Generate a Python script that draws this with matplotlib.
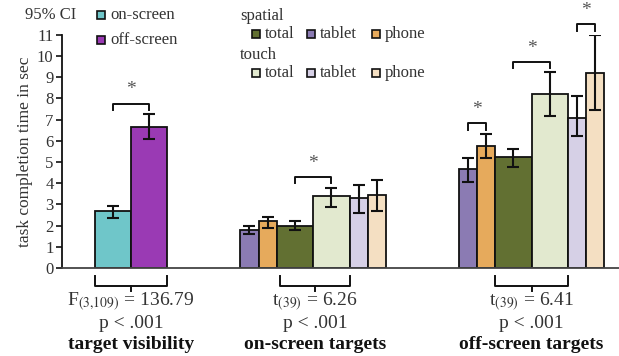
import matplotlib
matplotlib.use("Agg")
import matplotlib.pyplot as plt
from matplotlib.patches import Rectangle

plt.rcParams["font.family"] = ["Liberation Serif", "DejaVu Serif"]
plt.rcParams["mathtext.fontset"] = "stix"

GREY = "#333333"

# target visibility
vis_labels = ["on-screen", "off-screen"]
vis_colors = ["#6fc6c9", "#9a3ab4"]
vis_means = [2.68, 6.65]
vis_lo = [2.35, 6.1]
vis_hi = [2.95, 7.25]

# conditions: spatial tablet, spatial phone, spatial total, touch total, touch tablet, touch phone
cond_names = ["spatial tablet", "spatial phone", "spatial total",
              "touch total", "touch tablet", "touch phone"]
cond_colors = ["#8b7bb3", "#e6aa5c", "#627032", "#e2e9cf", "#d6d0e6", "#f4dfc2"]
cond_widths = [1, 1, 2, 2, 1, 1]

on_means = [1.8, 2.2, 2.0, 3.4, 3.3, 3.45]
on_lo = [1.6, 1.9, 1.8, 2.9, 2.6, 2.7]
on_hi = [2.0, 2.4, 2.2, 3.8, 3.9, 4.15]

off_means = [4.67, 5.75, 5.22, 8.2, 7.1, 9.2]
off_lo = [4.05, 5.17, 4.75, 7.17, 6.25, 7.46]
off_hi = [5.17, 6.33, 5.62, 9.23, 8.1, 11.0]

stats = [("F$_{(3{,}109)}$ = 136.79", "target visibility"),
         ("t$_{(39)}$ = 6.26", "on-screen targets"),
         ("t$_{(39)}$ = 6.41", "off-screen targets")]

fig = plt.figure(figsize=(6.19, 3.56), dpi=100)
ax = fig.add_axes([0.100, 0.247, 0.90, 0.655])


def draw_bars(start, widths, means, lo, hi, colors):
    centers = []
    x = start
    for w, m, l, h, c in zip(widths, means, lo, hi, colors):
        cx = x + w / 2
        ax.bar(cx, m, width=w, color=c, edgecolor="#111111", linewidth=1.3, zorder=2)
        ax.errorbar(cx, m, yerr=[[m - l], [h - m]], fmt="none", ecolor="#111111",
                    elinewidth=1.5, capsize=4, capthick=1.5, zorder=3)
        centers.append(cx)
        x += w
    return centers


def sig(x1, x2, top):
    y = top + 0.5
    ax.plot([x1, x1, x2, x2], [y - 0.3, y, y, y - 0.3], color="#111111", lw=1.4, clip_on=False)
    ax.text((x1 + x2) / 2, y + 0.25, "*", ha="center", va="bottom", fontsize=14,
            color="#555555", clip_on=False)


def under(x1, x2, stat, title):
    ax.plot([x1, x1, x2, x2], [-0.38, -0.85, -0.85, -0.38], color="#111111", lw=1.4, clip_on=False)
    xm = (x1 + x2) / 2
    ax.plot([xm, xm], [-0.85, -1.1], color="#111111", lw=1.4, clip_on=False)
    ax.text(xm, -1.6, stat, ha="center", va="center", fontsize=14, color=GREY)
    ax.text(xm, -2.6, "p < .001", ha="center", va="center", fontsize=14, color=GREY)
    ax.text(xm, -3.6, title, ha="center", va="center", fontsize=14, fontweight="bold",
            color="#111111")


c1 = draw_bars(1.8, [2, 2], vis_means, vis_lo, vis_hi, vis_colors)
c2 = draw_bars(9.8, cond_widths, on_means, on_lo, on_hi, cond_colors)
c3 = draw_bars(21.8, cond_widths, off_means, off_lo, off_hi, cond_colors)

sig(c1[0], c1[1], max(vis_hi))
sig(c2[2], c2[3], max(on_hi[2], on_hi[3]))
sig(c3[0], c3[1], max(off_hi[0], off_hi[1]))
sig(c3[2], c3[3], max(off_hi[2], off_hi[3]))
sig(c3[4], c3[5], max(off_hi[4], off_hi[5]))

under(1.8, 5.8, *stats[0])
under(9.8 + 2.2, 9.8 + 6, *stats[1])
under(21.8 + 2, 21.8 + 6, *stats[2])

ax.set_xlim(0, 30.6)
ax.set_ylim(0, 11)
ax.set_yticks(range(0, 12))
ax.set_xticks([])
ax.tick_params(axis="y", direction="out", length=4, width=1.2, colors="#111111",
               labelcolor=GREY, labelsize=12, pad=2)
for s in ["top", "right"]:
    ax.spines[s].set_visible(False)
ax.spines["left"].set_linewidth(1.3)
ax.spines["left"].set_color("#111111")
ax.spines["bottom"].set_linewidth(1.3)
ax.spines["bottom"].set_color("#444444")
ax.set_ylabel("task completion time in sec", fontsize=12.5, color=GREY, labelpad=3)

W, H = 619, 356


def swatch(px, py, color, label):
    fig.patches.append(Rectangle(((px) / W, (H - py - 4) / H), 8 / W, 8 / H,
                                 transform=fig.transFigure, facecolor=color,
                                 edgecolor="#111111", linewidth=1.2))
    fig.text((px + 13) / W, (H - py) / H, label, ha="left", va="center",
             fontsize=12, color=GREY)


fig.text(25 / W, (H - 15) / H, "95% CI", ha="left", va="center", fontsize=12, color=GREY)
swatch(97, 15, vis_colors[0], vis_labels[0])
swatch(97, 40, vis_colors[1], vis_labels[1])

fig.text(240 / W, (H - 16) / H, "spatial", ha="left", va="center", fontsize=12, color=GREY)
swatch(252, 34, cond_colors[2], "total")
swatch(307, 34, cond_colors[0], "tablet")
swatch(372, 34, cond_colors[1], "phone")
fig.text(240 / W, (H - 55) / H, "touch", ha="left", va="center", fontsize=12, color=GREY)
swatch(252, 73, cond_colors[3], "total")
swatch(307, 73, cond_colors[4], "tablet")
swatch(372, 73, cond_colors[5], "phone")

fig.savefig("out.png", dpi=100)
